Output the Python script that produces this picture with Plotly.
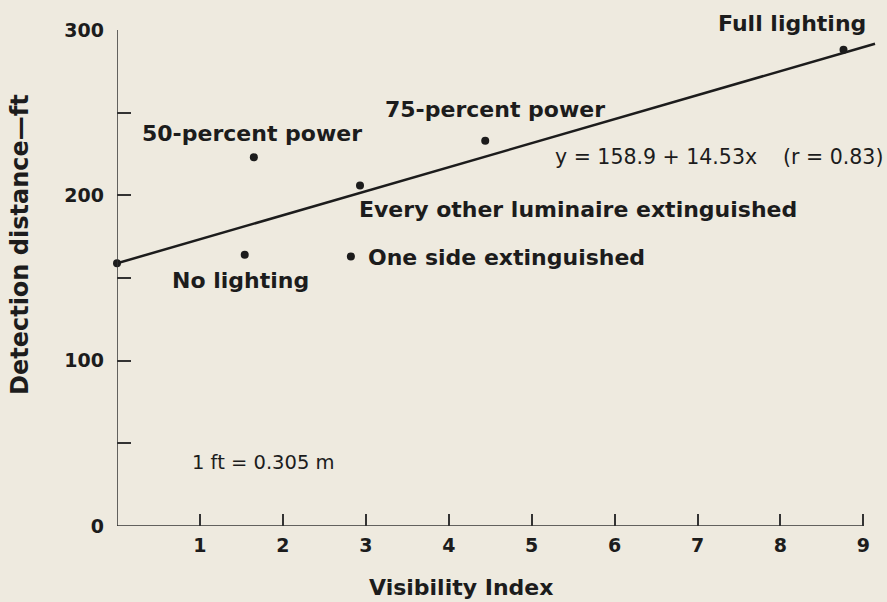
import plotly.graph_objects as go

# ---- data ----
conditions = ["No lighting", "50-percent power", "Every other luminaire extinguished",
              "One side extinguished", "75-percent power", "Full lighting"]
visibility = [1.54, 1.65, 2.93, 2.82, 4.44, 8.76]
distance = [164, 223, 206, 163, 233, 288]

# regression line y = a + b x
fit_intercept = 158.9
fit_slope = 14.53
fit_x = [0.0, 9.14]
fit_y = [fit_intercept + fit_slope * v for v in fit_x]
equation_text = "y = 158.9 + 14.53x    (r = 0.83)"
unit_note = "1 ft = 0.305 m"

x_tick_vals = [1, 2, 3, 4, 5, 6, 7, 8, 9]
x_tick_text = ["1", "2", "3", "4", "5", "6", "7", "8", "9"]
y_tick_vals = [0, 50, 100, 150, 200, 250, 300]
y_tick_text = ["0", "", "100", "", "200", "", "300"]

x_title = "Visibility Index"
y_title = "Detection distance\u2014ft"

# ---- styling ----
BG = "#EEEADF"
INK = "#1c1c1c"
BOLD = dict(family="DejaVu Sans", size=22, color=INK, weight="bold")
TICK = dict(family="DejaVu Sans", size=19, color=INK, weight="bold")
YTITLE = dict(family="DejaVu Sans", size=24, color=INK, weight="bold")
REG = dict(family="DejaVu Sans", size=20.5, color=INK)
NOTE = dict(family="DejaVu Sans", size=19.5, color=INK)

W, H = 887, 602
ML, MR, MT, MB = 117, 7, 30, 76
PW, PH = W - ML - MR, H - MT - MB

fig = go.Figure()

fig.add_trace(go.Scatter(x=fit_x, y=fit_y, mode="lines",
                         line=dict(color=INK, width=2.5), hoverinfo="skip"))
fig.add_trace(go.Scatter(x=[fit_x[0]], y=[fit_y[0]], mode="markers",
                         marker=dict(color=INK, size=8), cliponaxis=False))
fig.add_trace(go.Scatter(x=visibility, y=distance, mode="markers",
                         marker=dict(color=INK, size=8), text=conditions))

# label offsets (pixels) relative to each point
label_style = {
    "No lighting": dict(xanchor="center", xshift=-4, yshift=-26),
    "50-percent power": dict(xanchor="center", xshift=-2, yshift=24),
    "Every other luminaire extinguished": dict(xanchor="left", xshift=-3, yshift=-24),
    "One side extinguished": dict(xanchor="left", xshift=15, yshift=-1),
    "75-percent power": dict(xanchor="center", xshift=10, yshift=31),
    "Full lighting": dict(xanchor="right", xshift=24, yshift=26),
}
for name, xv, yv in zip(conditions, visibility, distance):
    st = label_style[name]
    fig.add_annotation(x=xv, y=yv, text=name, showarrow=False, font=BOLD,
                       xanchor=st["xanchor"], yanchor="middle",
                       xshift=st["xshift"], yshift=st["yshift"])

fig.add_annotation(x=5.26, y=223, text=equation_text, showarrow=False, font=REG,
                   xanchor="left", yanchor="middle")
fig.add_annotation(x=0.88, y=38.7, text=unit_note, showarrow=False, font=NOTE,
                   xanchor="left", yanchor="middle")

# axis titles
fig.add_annotation(xref="paper", yref="paper", x=(461 - ML) / PW,
                   y=-(587 - (H - MB)) / PH, text=x_title, showarrow=False,
                   font=BOLD, xanchor="center", yanchor="middle")
fig.add_annotation(xref="paper", yref="paper", x=-(ML - 20) / PW,
                   y=((H - MB) - 245) / PH, text=y_title, textangle=-90,
                   showarrow=False, font=YTITLE, xanchor="center", yanchor="middle")

# axis lines
fig.add_shape(type="line", x0=0, x1=9, y0=0, y1=0, xref="x", yref="y",
              line=dict(color="#333333", width=1.5))
fig.add_shape(type="line", x0=0, x1=0, y0=0, y1=300, xref="x", yref="y",
              line=dict(color="#333333", width=1.5))

fig.update_xaxes(range=[0, 9.2], showgrid=False, zeroline=False, showline=False,
                 tickvals=x_tick_vals, ticktext=x_tick_text, ticks="inside",
                 ticklen=12, tickwidth=1.5, tickcolor="#333333",
                 tickfont=TICK, ticklabelstandoff=6)
fig.update_yaxes(range=[0, 300], showgrid=False, zeroline=False, showline=False,
                 tickvals=y_tick_vals, ticktext=y_tick_text, ticks="inside",
                 ticklen=14, tickwidth=1.5, tickcolor="#333333",
                 tickfont=TICK, ticklabelstandoff=12)

fig.update_layout(width=W, height=H, showlegend=False,
                  paper_bgcolor=BG, plot_bgcolor=BG,
                  margin=dict(l=ML, r=MR, t=MT, b=MB))

fig.write_html("out.html", config={"displayModeBar": False},
               post_script="document.body.style.margin='0';"
                           "document.body.style.background='%s';" % BG)
